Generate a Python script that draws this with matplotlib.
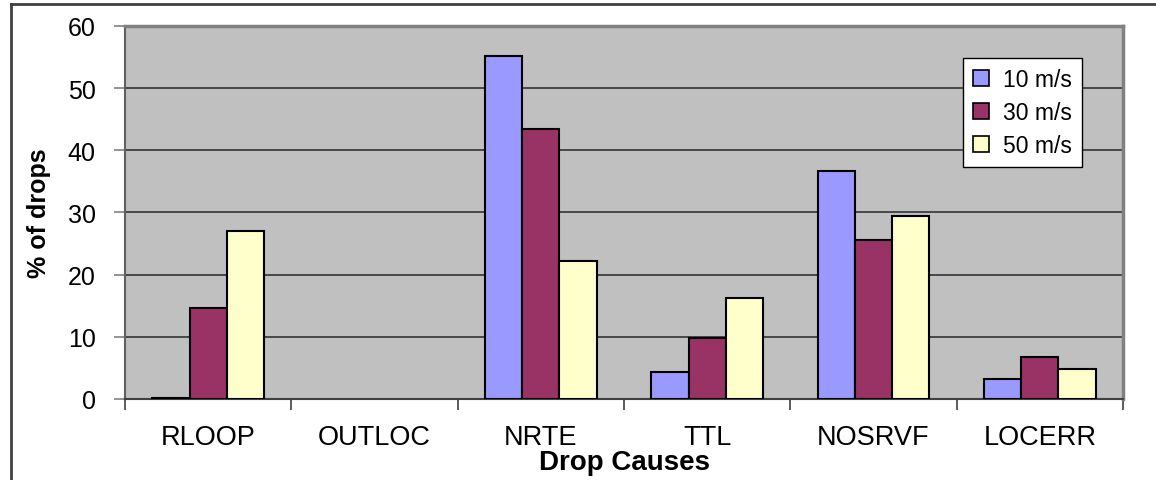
import matplotlib
matplotlib.use('Agg')
import matplotlib.pyplot as plt
from matplotlib.lines import Line2D
import numpy as np

plt.rcParams['font.family'] = ['Liberation Sans', 'DejaVu Sans']

causes = ['RLOOP', 'OUTLOC', 'NRTE', 'TTL', 'NOSRVF', 'LOCERR']
speeds = ['10 m/s', '30 m/s', '50 m/s']
drops_10 = [0.2, 0, 55.2, 4.4, 36.7, 3.2]
drops_30 = [14.6, 0, 43.5, 9.8, 25.5, 6.7]
drops_50 = [27.1, 0, 22.2, 16.2, 29.5, 4.8]
colors = ['#9999FF', '#993366', '#FFFFCC']


def drops_graph():
    fig = plt.figure(figsize=(11.56, 4.81), dpi=100)
    ax = fig.add_axes([0.1081, 0.1684, 0.8634, 0.7755])
    ax.set_facecolor('#C0C0C0')

    x = np.arange(len(causes))
    width = 0.2235
    for i, (vals, name) in enumerate(zip([drops_10, drops_30, drops_50], speeds)):
        bars = ax.bar(x + (i - 1) * width, vals, width, color=colors[i],
                      edgecolor='black', linewidth=1.5, label=name, zorder=3)
        for b, v in zip(bars, vals):
            if v == 0:
                b.set_linewidth(0)

    ax.set_xlim(-0.5, len(causes) - 0.5)
    ax.set_ylim(0, 60)
    ax.set_yticks(range(0, 61, 10))
    ax.grid(axis='y', color='#333333', linewidth=1.2, zorder=1)

    ax.set_xticks(x)
    ax.set_xticklabels(causes, fontsize=19.5)
    ax.set_xticks(np.arange(-0.5, len(causes)), minor=True)
    ax.tick_params(axis='x', which='major', length=0, pad=18)
    ax.tick_params(axis='x', which='minor', length=8, width=1.2,
                   color='#404040', direction='out')
    ax.tick_params(axis='y', length=8, width=1.2, color='#808080',
                   labelsize=18, pad=13)

    for side in ['top', 'right']:
        ax.spines[side].set_color('#808080')
        ax.spines[side].set_linewidth(2.5)
    ax.spines['left'].set_color('#606060')
    ax.spines['left'].set_linewidth(1.5)
    ax.spines['bottom'].set_color('#404040')
    ax.spines['bottom'].set_linewidth(1.5)

    ax.set_ylabel('% of drops', fontsize=18, fontweight='bold', labelpad=12)
    ax.set_xlabel('Drop Causes', fontsize=20, fontweight='bold', labelpad=-1)

    leg = ax.legend(loc='upper left', bbox_to_anchor=(0.8397, 0.9142),
                    fontsize=16.5, fancybox=False, framealpha=1,
                    edgecolor='black', handlelength=0.7, handleheight=0.7,
                    labelspacing=0.42, handletextpad=0.6, borderpad=0.45,
                    borderaxespad=0)
    leg.get_frame().set_linewidth(1.0)
    for h in leg.legend_handles:
        h.set_linewidth(1.2)

    # outer frame
    fig.add_artist(Line2D([0.0099, 1.0], [0.9896, 0.9896], color='#404040', linewidth=2))
    fig.add_artist(Line2D([0.0099, 0.0099], [0.0, 0.9896], color='#404040', linewidth=2))

    fig.savefig('out.png', dpi=100)


if __name__ == '__main__':
    drops_graph()
